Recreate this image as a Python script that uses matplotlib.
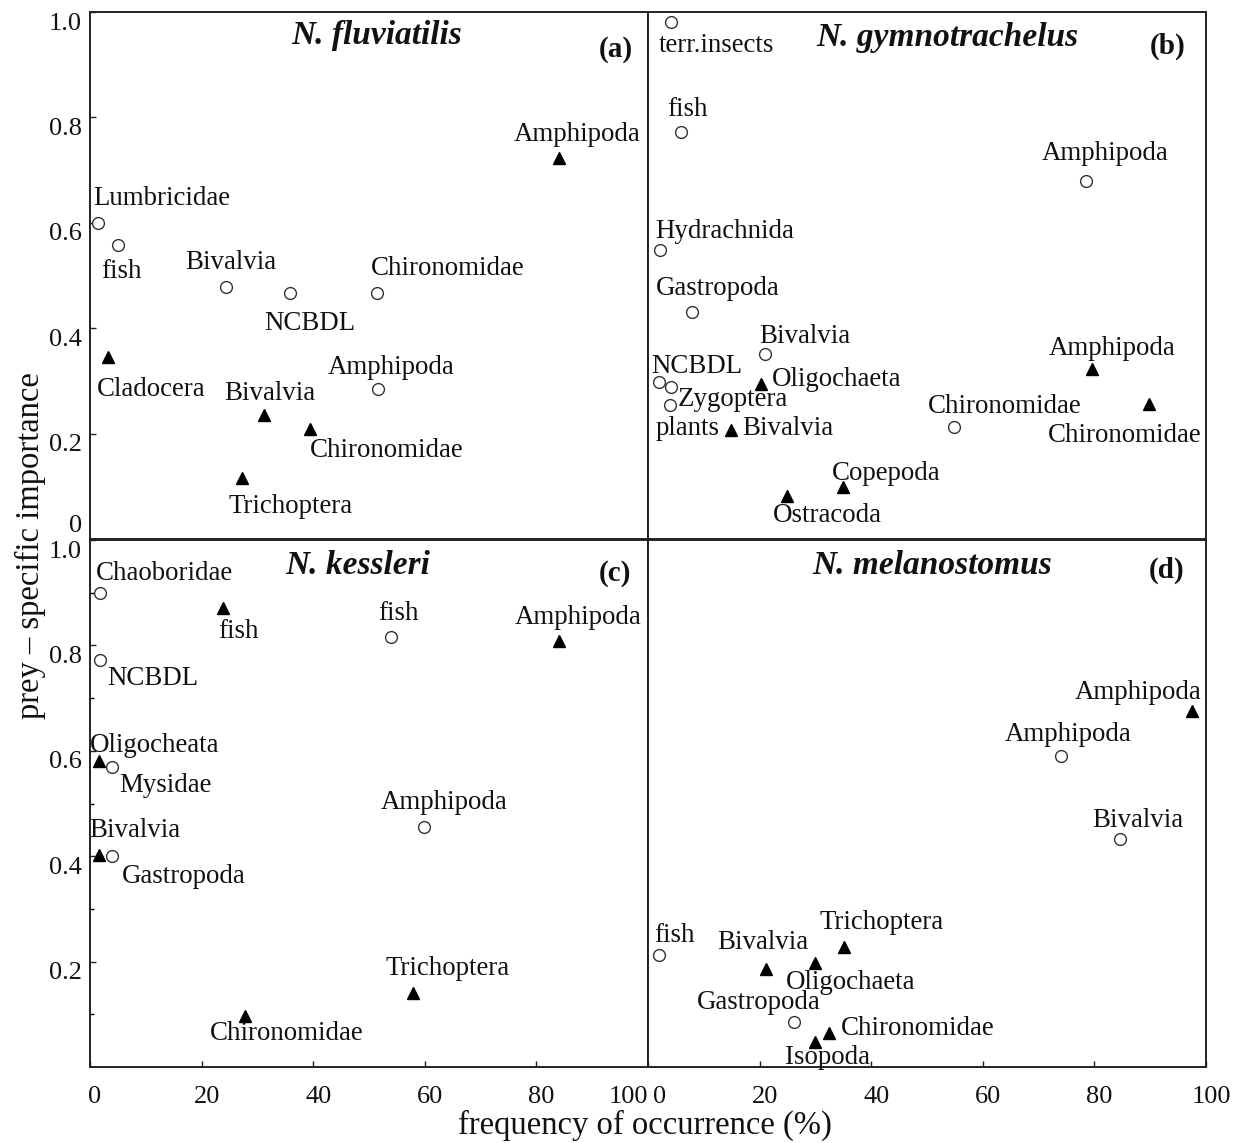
import matplotlib
matplotlib.use('Agg')
import matplotlib.pyplot as plt
from matplotlib.transforms import ScaledTranslation

plt.rcParams['font.family'] = ['Liberation Serif', 'DejaVu Serif']

# ---------------- data ----------------
# kind: 'o' = open circle, '^' = filled triangle
# (a) N. fluviatilis
a_prey = ['Lumbricidae', 'fish', 'Bivalvia', 'NCBDL', 'Chironomidae', 'Amphipoda',
          'Amphipoda', 'Cladocera', 'Bivalvia', 'Chironomidae', 'Trichoptera']
a_freq = [1.4, 5.1, 24.4, 35.9, 51.5, 51.6, 84.0, 3.3, 31.2, 39.5, 27.2]
a_imp = [0.600, 0.557, 0.478, 0.467, 0.467, 0.285, 0.723, 0.345, 0.236, 0.209, 0.115]
a_kind = ['o', 'o', 'o', 'o', 'o', 'o', '^', '^', '^', '^', '^']

# (b) N. gymnotrachelus
b_prey = ['terr.insects', 'fish', 'Amphipoda', 'Hydrachnida', 'Gastropoda', 'Bivalvia',
          'NCBDL', 'Zygoptera', 'plants', 'Chironomidae', 'Oligochaeta', 'Bivalvia',
          'Amphipoda', 'Chironomidae', 'Copepoda', 'Ostracoda']
b_freq = [4.2, 5.9, 78.5, 2.1, 7.9, 21.0, 2.0, 4.2, 4.0, 54.8, 20.2, 14.9, 79.6, 89.8, 34.9, 24.9]
b_imp = [0.981, 0.773, 0.680, 0.548, 0.431, 0.351, 0.297, 0.288, 0.255, 0.212,
         0.294, 0.207, 0.322, 0.256, 0.098, 0.082]
b_kind = ['o', 'o', 'o', 'o', 'o', 'o', 'o', 'o', 'o', 'o', '^', '^', '^', '^', '^', '^']

# (c) N. kessleri
c_prey = ['Chaoboridae', 'fish', 'fish', 'Amphipoda', 'NCBDL', 'Oligocheata', 'Mysidae',
          'Amphipoda', 'Bivalvia', 'Gastropoda', 'Trichoptera', 'Chironomidae']
c_freq = [1.8, 23.8, 53.9, 84.0, 1.75, 1.7, 3.9, 59.9, 1.7, 3.9, 57.8, 27.8]
c_imp = [0.900, 0.871, 0.816, 0.809, 0.772, 0.580, 0.570, 0.456, 0.403, 0.401, 0.140, 0.097]
c_kind = ['o', '^', 'o', '^', 'o', '^', 'o', 'o', '^', 'o', '^', '^']

# (d) N. melanostomus
d_prey = ['Amphipoda', 'Amphipoda', 'Bivalvia', 'fish', 'Bivalvia', 'Oligochaeta',
          'Trichoptera', 'Gastropoda', 'Chironomidae', 'Isopoda']
d_freq = [97.5, 74.0, 84.5, 2.0, 21.2, 30.0, 35.1, 26.1, 32.5, 30.0]
d_imp = [0.675, 0.591, 0.433, 0.213, 0.186, 0.198, 0.2285, 0.086, 0.064, 0.048]
d_kind = ['^', 'o', 'o', 'o', '^', '^', '^', 'o', '^', '^']

titles = ['N. fluviatilis', 'N. gymnotrachelus', 'N. kessleri', 'N. melanostomus']
letters = ['(a)', '(b)', '(c)', '(d)']

# label offsets (pixels, from marker centre to label left/centre)
a_off = [(-5, 27), (-17, -23), (-41, 28), (-26, -28), (-6, 27), (-50, 24),
         (-45, 26), (-12, -29), (-40, 24), (-1, -19), (-13, -25)]
b_off = [(-13, -20), (-14, 25), (-44, 30), (-4, 22), (-36, 26), (-6, 21),
         (-8, 19), (6, -9), (-15, -21), (-26, 24), (11, 8), (11, 4),
         (-43, 24), (-101, -28), (-11, 17), (-14, -17)]
c_off = [(-4, 22), (-5, -21), (-13, 26), (-44, 26), (7, -15), (-10, 19), (7, -16),
         (-44, 27), (-10, 27), (10, -18), (-27, 28), (-35, -15)]
d_off = [(-117, 22), (-56, 24), (-27, 21), (-5, 22), (-49, 29), (-30, -17),
         (-24, 27), (-97, 22), (12, 8), (-30, -13)]
LABEL_DY = -3  # visual-centre correction

# ---------------- layout ----------------
FW, FH = 1236, 1143
fig = plt.figure(figsize=(FW / 100, FH / 100), dpi=100)
W, H = 558 / FW, 527 / FH
ax_a = fig.add_axes([90 / FW, 1 - 539 / FH, W, H])
ax_b = fig.add_axes([648 / FW, 1 - 539 / FH, W, H])
ax_c = fig.add_axes([90 / FW, 1 - 1067 / FH, W, H])
ax_d = fig.add_axes([648 / FW, 1 - 1067 / FH, W, H])

panels = [
    (ax_a, a_prey, a_freq, a_imp, a_kind, a_off),
    (ax_b, b_prey, b_freq, b_imp, b_kind, b_off),
    (ax_c, c_prey, c_freq, c_imp, c_kind, c_off),
    (ax_d, d_prey, d_freq, d_imp, d_kind, d_off),
]
title_pos = [(0.514, 0.955), (0.536, 0.952), (0.480, 0.952), (0.510, 0.952)]
letter_pos = [(0.942, 0.928), (0.932, 0.934), (0.940, 0.936), (0.929, 0.943)]

TXT = '#111111'
for i, (ax, prey, fr, imp, kind, off) in enumerate(panels):
    ax.set_xlim(0, 100)
    ax.set_ylim(0, 1.0)
    for sp in ax.spines.values():
        sp.set_linewidth(1.4)
        sp.set_color('#222222')
    xo = [f for f, k in zip(fr, kind) if k == 'o']
    yo = [v for v, k in zip(imp, kind) if k == 'o']
    xt = [f for f, k in zip(fr, kind) if k == '^']
    yt = [v for v, k in zip(imp, kind) if k == '^']
    ax.plot(xo, yo, linestyle='none', marker='o', markersize=8.5, markerfacecolor='white',
            markeredgecolor='#333333', markeredgewidth=1.0, clip_on=False, zorder=3)
    ax.plot(xt, yt, linestyle='none', marker='^', markersize=8, markerfacecolor='black',
            markeredgecolor='black', clip_on=False, zorder=3)
    for name, x, y, (dx, dy) in zip(prey, fr, imp, off):
        ax.annotate(name, (x, y), xytext=(dx, dy + LABEL_DY), textcoords='offset pixels',
                    ha='left', va='center', fontsize=19.4, color=TXT,
                    annotation_clip=False, zorder=4)
    tx, ty = title_pos[i]
    ax.text(tx, ty, titles[i], transform=ax.transAxes, ha='center', va='center',
            fontsize=24, fontweight='bold', fontstyle='italic', color=TXT)
    lx, ly = letter_pos[i]
    ax.text(lx, ly, letters[i], transform=ax.transAxes, ha='center', va='center',
            fontsize=21, fontweight='bold', color=TXT)
    ax.tick_params(direction='in', length=4, width=1, labelsize=19, colors='#222222',
                   labelcolor=TXT)
    ax.tick_params(which='minor', direction='in', length=3, width=1)

# ticks
ax_a.set_xticks([])
ax_a.set_yticks([0, 0.2, 0.4, 0.6, 0.8, 1.0])
ax_a.set_yticklabels(['0', '0.2', '0.4', '0.6', '0.8', '1.0'])
ax_b.set_xticks([])
ax_b.set_yticks([])
ax_c.set_yticks([0.2, 0.4, 0.6, 0.8, 1.0])
ax_c.set_yticklabels(['0.2', '0.4', '0.6', '0.8', '1.0'])
ax_c.set_yticks([0.1, 0.3, 0.5, 0.7, 0.9], minor=True)
ax_c.set_xticks([0, 20, 40, 60, 80, 100])
ax_c.set_xticklabels(['0', '20', '40', '60', '80', '100'])
ax_d.set_yticks([])
ax_d.set_xticks([0, 20, 40, 60, 80, 100])
ax_d.set_xticklabels(['0', '20', '40', '60', '80', '100'])
for ax in (ax_c, ax_d):
    ax.tick_params(axis='x', pad=14)
for ax in (ax_a, ax_c):
    ax.tick_params(axis='y', pad=6)

fig.canvas.draw()
# nudge tick labels as in the reference
for lab in ax_a.get_yticklabels() + ax_c.get_yticklabels():
    shift = 16 if lab.get_text() == '0' else -9
    lab.set_transform(lab.get_transform() + ScaledTranslation(0, shift / 100, fig.dpi_scale_trans))
for lab in ax_c.get_xticklabels():
    lab.set_transform(lab.get_transform() + ScaledTranslation(5 / 100, 0, fig.dpi_scale_trans))
    if lab.get_text() == '100':
        lab.set_horizontalalignment('right')
        lab.set_transform(lab.get_transform() + ScaledTranslation(-5 / 100, 0, fig.dpi_scale_trans))
for lab in ax_d.get_xticklabels():
    lab.set_transform(lab.get_transform() + ScaledTranslation(5 / 100, 0, fig.dpi_scale_trans))
    if lab.get_text() == '0':
        lab.set_horizontalalignment('left')

fig.text(30 / FW, 1 - 546 / FH, 'prey \u2013 specific importance', rotation=90,
         ha='center', va='center', fontsize=23.5, color=TXT)
fig.text(645 / FW, 1 - 1125 / FH, 'frequency of occurrence (%)',
         ha='center', va='center', fontsize=23.5, color=TXT)

fig.savefig('out.png', dpi=100, facecolor='white')
